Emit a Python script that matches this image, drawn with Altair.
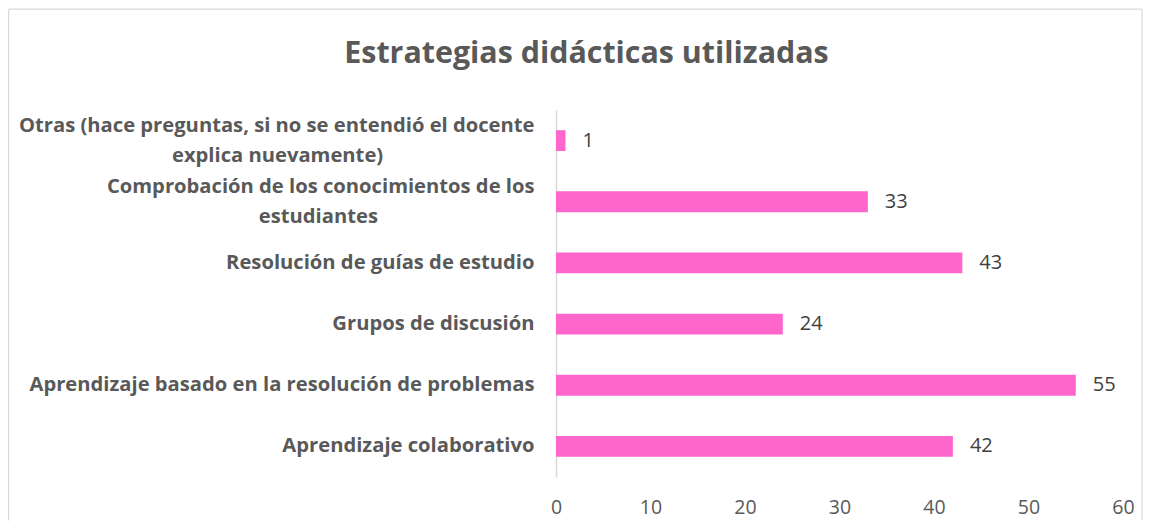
import altair as alt
import pandas as pd

# ---- data ----
categories = [
    "Otras (hace preguntas, si no se entendió el docente explica nuevamente)",
    "Comprobación de los conocimientos de los estudiantes",
    "Resolución de guías de estudio",
    "Grupos de discusión",
    "Aprendizaje basado en la resolución de problemas",
    "Aprendizaje colaborativo",
]
values = [1, 33, 43, 24, 55, 42]

# wrapped display text (lines separated by "|"); trailing blanks centre the 2nd line
NB = "\u00A0"
BL = "\u2800"
display_labels = [
    "Otras (hace preguntas, si no se entendió el docente|explica nuevamente)" + NB * 26 + BL,
    "Comprobación de los conocimientos de los|estudiantes" + NB * 27 + BL,
    "Resolución de guías de estudio",
    "Grupos de discusión",
    "Aprendizaje basado en la resolución de problemas",
    "Aprendizaje colaborativo",
]
x_ticks = [0, 10, 20, 30, 40, 50, 60]

df = pd.DataFrame({"categoria": categories, "etiqueta": display_labels, "valor": values})

FONT = "Open Sans"
PINK = "#FF66CC"
GRAY_TXT = "#595959"
BORDER = "#D9D9D9"

y_enc = alt.Y(
    "etiqueta:N",
    sort=display_labels,
    scale=alt.Scale(paddingInner=0.66, paddingOuter=0.33),
    axis=alt.Axis(
        title=None,
        labelExpr="split(datum.label, '|')",
        labelFont=FONT,
        labelFontSize=20.2,
        labelFontWeight="bold",
        labelColor=GRAY_TXT,
        labelLineHeight=30,
        labelLimit=700,
        labelPadding=22,
        labelOffset={"condition": {"test": "indexof(datum.label, '|') >= 0", "value": -15}, "value": 0},
        ticks=False,
        grid=False,
        domainColor=BORDER,
        domainWidth=1.5,
    ),
)
x_enc = alt.X(
    "valor:Q",
    scale=alt.Scale(domain=[0, 60], nice=False),
    axis=alt.Axis(
        title=None,
        values=x_ticks,
        labelFont=FONT,
        labelFontSize=19.5,
        labelColor=GRAY_TXT,
        labelPadding=21,
        labelFlush=False,
        labelOverlap=False,
        ticks=False,
        grid=False,
        domain=False,
    ),
)

base = alt.Chart(df)
bars = base.mark_bar(color=PINK).encode(y=y_enc, x=x_enc)
text = base.mark_text(
    align="left", baseline="middle", dx=17, font=FONT, fontSize=20, color="#404040"
).encode(y=alt.Y("etiqueta:N", sort=display_labels), x="valor:Q", text="valor:Q")

one = alt.Chart(pd.DataFrame({"k": [0]}))
frame_top = one.mark_rule(color=BORDER, strokeWidth=1.2).encode(
    x=alt.value(-547.4), x2=alt.value(586), y=alt.value(-100.8)
)
frame_left = one.mark_rule(color=BORDER, strokeWidth=1.2).encode(
    x=alt.value(-547.4), y=alt.value(-100.8), y2=alt.value(410.5)
)
frame_right = one.mark_rule(color=BORDER, strokeWidth=1.2).encode(
    x=alt.value(586), y=alt.value(-100.8), y2=alt.value(410.5)
)

chart = (
    alt.layer(frame_top, frame_left, frame_right, bars, text)
    .properties(
        width=567,
        height=367,
        background="white",
        padding={"left": 0, "top": 0, "right": 0, "bottom": 0},
        title=alt.TitleParams(
            "Estrategias didácticas utilizadas",
            font=FONT,
            fontSize=30.4,
            fontWeight="bold",
            color=GRAY_TXT,
            anchor="middle",
            frame="bounds",
            offset=0,
            baseline="alphabetic",
            dx=11.2,
            dy=85,
        ),
    )
    .configure_view(strokeWidth=0)
)

chart.save("out.html", embed_options={"renderer": "svg", "actions": False})
